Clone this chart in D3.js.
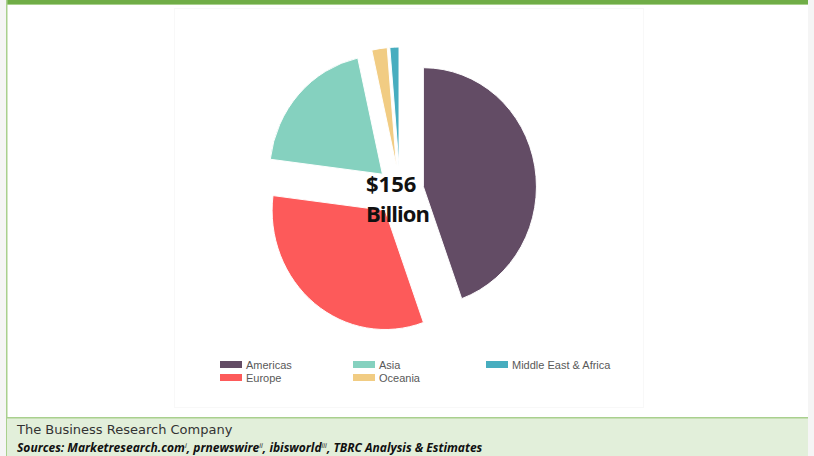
<!DOCTYPE html>
<html>
<head>
<meta charset="utf-8">
<script src="https://d3js.org/d3.v7.min.js"></script>
<style>
  body { margin: 0; background: #f5f5f5; }
  svg { display: block; }
</style>
</head>
<body>
<script>
    // market share by region, percent of $156 billion
    let regions = ["Americas", "Europe", "Asia", "Oceania", "Middle East & Africa"];
    let shares = [44.5, 32.5, 19.5, 2.2, 1.3];
    let colors = ["#634c65", "#fd5a5a", "#85d1bf", "#f1cc83", "#47adbf"];
    let legendOrder = ["Americas", "Europe", "Asia", "Oceania", "Middle East & Africa"];

    let width = 814, height = 456;

    let svg = d3.select("body").append("svg")
        .attr("width", width)
        .attr("height", height);

    // page frame
    svg.append("rect").attr("x", 7).attr("y", 0).attr("width", 801).attr("height", 456).attr("fill", "white");
    svg.append("rect").attr("x", 7).attr("y", 0).attr("width", 801).attr("height", 4).attr("fill", "#70ad47");
    svg.append("rect").attr("x", 7).attr("y", 4).attr("width", 801).attr("height", 1).attr("fill", "#a9d08e");
    svg.append("rect").attr("x", 6).attr("y", 0).attr("width", 1.5).attr("height", 456).attr("fill", "#a9d08e");

    // faint chart area border
    svg.append("rect").attr("x", 174.5).attr("y", 8.5).attr("width", 469).attr("height", 399)
        .attr("fill", "none").attr("stroke", "#f8f8f8");

    // footer
    svg.append("rect").attr("x", 7).attr("y", 417).attr("width", 801).attr("height", 39).attr("fill", "#e2efda");
    svg.append("rect").attr("x", 7).attr("y", 417).attr("width", 801).attr("height", 1.5).attr("fill", "#a9d08e");

    svg.append("text").attr("x", 17).attr("y", 434)
        .style("font-family", "'DejaVu Sans', sans-serif").style("font-size", "13px")
        .attr("fill", "#333").text("The Business Research Company");

    let src = svg.append("text").attr("x", 17).attr("y", 452)
        .style("font-family", "'Open Sans', sans-serif").style("font-size", "12px")
        .style("font-weight", "bold").style("font-style", "italic")
        .attr("fill", "#111");
    let parts = [["Sources: Marketresearch.com", "i"], [", prnewswire", "ii"], [", ibisworld", "iii"], [", TBRC Analysis & Estimates", null]];
    parts.forEach(p => {
        src.append("tspan").text(p[0]);
        if (p[1]) {
            src.append("tspan").attr("baseline-shift", "super").style("font-size", "7px")
                .style("font-weight", "normal").text(p[1]);
        }
    });

    // pie
    let cx = 400, cy = 191, r = 119, explode = 25;
    let pie = d3.pie().sort(null).value(d => d)(shares);
    let arc = d3.arc().innerRadius(0).outerRadius(r);

    let g = svg.append("g").attr("transform", `translate(${cx},${cy}) scale(0.95,1)`);
    g.selectAll("path")
        .data(pie)
        .join("path")
        .attr("d", arc)
        .attr("transform", d => {
            let mid = (d.startAngle + d.endAngle) / 2;
            return `translate(${explode * Math.sin(mid)},${-explode * Math.cos(mid)})`;
        })
        .attr("fill", (d, i) => colors[i])
        .attr("stroke", "white")
        .attr("stroke-width", 1);

    // center label
    let lbl = svg.append("text")
        .style("font-family", "'Open Sans', sans-serif")
        .style("font-weight", "bold").style("font-size", "22px")
        .attr("fill", "#111");
    lbl.append("tspan").attr("x", 366).attr("y", 192).text("$156");
    lbl.append("tspan").attr("x", 366).attr("y", 222).attr("textLength", 64).text("Billion");

    // legend
    let colorOf = d3.scaleOrdinal().domain(regions).range(colors);
    let legendPos = [[220, 361], [220, 374], [353, 361], [353, 374], [486, 361]];
    let lg = svg.append("g").selectAll("g")
        .data(legendOrder)
        .join("g")
        .attr("transform", (d, i) => `translate(${legendPos[i][0]},${legendPos[i][1]})`);
    lg.append("rect").attr("width", 22).attr("height", 7).attr("fill", d => colorOf(d));
    lg.append("text").attr("x", 26).attr("y", 7.5)
        .style("font-family", "'Liberation Sans', Arial, sans-serif").style("font-size", "11px")
        .attr("fill", "#595959").text(d => d);
</script>
</body>
</html>
